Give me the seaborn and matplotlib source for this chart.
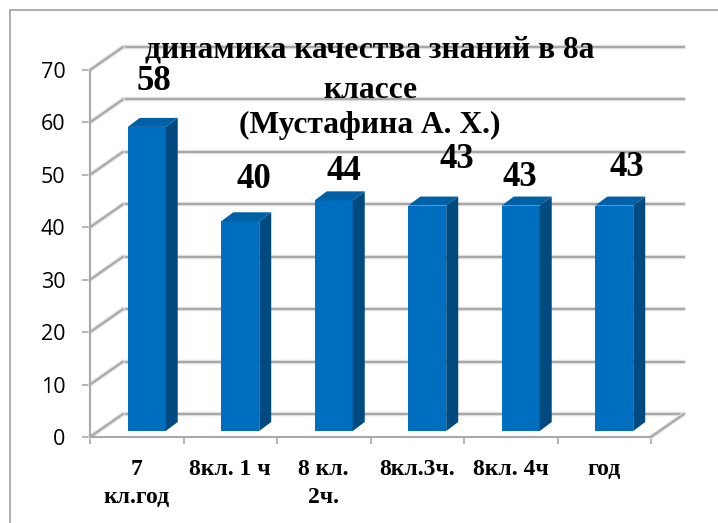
import matplotlib
matplotlib.use("Agg")
import matplotlib.pyplot as plt
import matplotlib.patheffects as pe
import matplotlib.transforms as mtrans
from matplotlib.lines import Line2D
from matplotlib.patches import Polygon
import numpy as np
import pandas as pd
import seaborn as sns

categories = ["7\nкл.год", "8кл. 1 ч", "8 кл.\n2ч.", "8кл.3ч.", "8кл. 4ч", "год"]
values = [58, 40, 44, 43, 43, 43]
y_ticks = [0, 10, 20, 30, 40, 50, 60, 70]
title_lines = ["динамика качества знаний в 8а", "классе", "(Мустафина А. Х.)"]

W, H = 718, 523
FRONT = "#006EBE"
SIDE = "#004A80"
TOP = "#0060A6"
GRID = "#A8A8A8"

sns.set_style("white")
plt.rcParams["font.family"] = ["Open Sans", "DejaVu Sans"]
plt.rcParams["text.color"] = "black"

fig = plt.figure(figsize=(W / 100, H / 100), dpi=100)
ax = fig.add_axes([90 / W, (H - 437) / H, 561 / W, 367 / H])

df = pd.DataFrame({"category": categories, "value": values})
sns.barplot(data=df, x="category", y="value", color=FRONT, saturation=1, width=0.406, ax=ax, zorder=3)
ax.set_xlim(-0.5, 5.5)
ax.set_ylim(0, 70)
ax.set_xlabel("")
ax.set_ylabel("")


def px(x, y):
    return x / W, 1 - y / H


def shifted(dx, dy):
    # offset given in pixels, y going up
    return ax.transData + mtrans.ScaledTranslation(dx / 100, dy / 100, fig.dpi_scale_trans)


# walls and floor of the fake 3d box
back = shifted(33, 23)
soft = [pe.withStroke(linewidth=3.2, foreground="#E2E2E2")]
for t in y_ticks:
    ax.plot([-0.5, 5.5], [t, t], transform=back, color=GRID, lw=1.5, clip_on=False, zorder=1, path_effects=soft)
    x0, y0 = ax.transData.transform((-0.5, t))
    ax.add_line(Line2D([x0, x0 + 33], [y0, y0 + 23], transform=mtrans.IdentityTransform(),
                       color=GRID, lw=1.5, zorder=1, clip_on=False, path_effects=soft))
x1, y1 = ax.transData.transform((5.5, 0))
ax.add_line(Line2D([x1, x1 + 33], [y1, y1 + 23], transform=mtrans.IdentityTransform(),
                   color=GRID, lw=1.5, zorder=1, clip_on=False, path_effects=soft))

# bars stand a bit inside the box, with side and top faces
bar_shift = shifted(10, 6)
for bar in ax.patches[:len(values)]:
    left, right = bar.get_x(), bar.get_x() + bar.get_width()
    (xl, yb), (xr, yt) = ax.transData.transform([(left, 0), (right, bar.get_height())])
    xl, xr, yb, yt = xl + 10, xr + 10, yb + 6, yt + 6
    bar.set_transform(bar_shift)
    bar.set_clip_on(False)
    bar.set_linewidth(0)
    ax.add_patch(Polygon([(xr, yb), (xr, yt), (xr + 12, yt + 9), (xr + 12, yb + 9)],
                         transform=mtrans.IdentityTransform(), color=SIDE, lw=0, zorder=3, clip_on=False))
    ax.add_patch(Polygon([(xl, yt), (xr, yt), (xr + 12, yt + 9), (xl + 12, yt + 9)],
                         transform=mtrans.IdentityTransform(), color=TOP, lw=0, zorder=3, clip_on=False))

sns.despine(ax=ax, top=True, right=True)
for side in ["left", "bottom"]:
    ax.spines[side].set_color(GRID)
    ax.spines[side].set_linewidth(1.5)
    ax.spines[side].set_zorder(2)

ax.set_yticks(y_ticks)
ax.tick_params(axis="y", left=True, length=5.8, width=1.2, color=GRID, pad=12, labelsize=15.5, labelcolor="black")
ax.set_xticks(np.arange(-0.5, 6), labels=[""] * 7)
ax.set_xticks(np.arange(6), labels=categories, minor=True)
ax.tick_params(axis="x", which="major", bottom=True, length=5, width=1.2, color=GRID)
ax.tick_params(axis="x", which="minor", bottom=False, length=0, pad=16, labelcolor="black")
for lab in ax.get_xticklabels(minor=True):
    lab.set_family("Liberation Serif")
    lab.set_weight("bold")
    lab.set_fontsize(17)
    lab.set_linespacing(1.4)
    lab.set_verticalalignment("top")

# title sits on top of the gridlines
title_y = [50, 90, 125]
for line, y in zip(title_lines, title_y):
    fig.text(*px(370, y), line, ha="center", va="center", family="Liberation Serif",
             weight="bold", fontsize=22.7, zorder=6)

label_pos = [(154, 82), (254, 179), (344, 171), (457, 159), (520, 178), (627, 168)]
for v, (x, y) in zip(values, label_pos):
    fig.text(*px(x, y), str(v), ha="center", va="center", family="Liberation Serif",
             weight="bold", fontsize=25, zorder=6)

# picture frame, cut by the right and bottom edge
frame = "#9A9A9A"
fig.add_artist(Line2D([10 / W, 1], [1 - 9.5 / H, 1 - 9.5 / H], color=frame, lw=1.1))
fig.add_artist(Line2D([10 / W, 10 / W], [1 - 9.5 / H, 0], color=frame, lw=1.1))

fig.savefig("out.png", dpi=100)
